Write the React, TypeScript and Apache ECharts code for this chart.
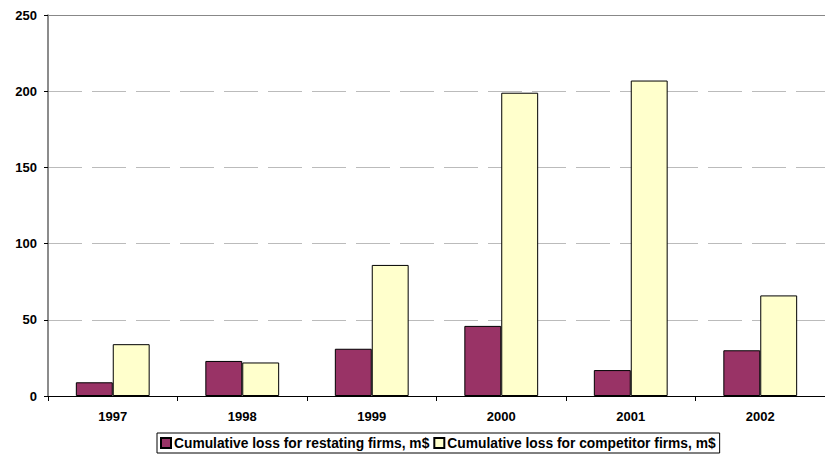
import React, { useEffect, useRef } from "react";
import * as echarts from "echarts";

const years = ["1997", "1998", "1999", "2000", "2001", "2002"];
const restatingLoss = [9, 23, 31, 46, 17, 30];
const competitorLoss = [34, 22, 86, 199, 207, 66];
const seriesNames = [
  "Cumulative loss for restating firms, m$",
  "Cumulative loss for competitor firms, m$",
];

const FONT = "Liberation Sans, Arial, sans-serif";

export default function App() {
  const ref = useRef<HTMLDivElement>(null);

  useEffect(() => {
    if (!ref.current) return;
    const chart = echarts.init(ref.current, null, { renderer: "svg" });
    chart.setOption({
      animation: false,
      backgroundColor: "#fff",
      textStyle: { fontFamily: FONT },
      grid: { left: 48, right: -9, top: 15, bottom: 62 },
      legend: {
        top: 433,
        left: 157,
        itemWidth: 10,
        itemHeight: 10,
        itemGap: 4,
        padding: [3, 4, 3, 3],
        borderColor: "#000",
        borderWidth: 1,
        icon: "rect",
        textStyle: { fontFamily: FONT, fontWeight: "bold", fontSize: 13.8, color: "#000", padding: [0, 0, 0, -2] },
        data: seriesNames,
      },
      xAxis: [
        {
          type: "category",
          data: years,
          axisLine: { lineStyle: { color: "#000", width: 1 } },
          axisTick: { show: true, length: 5, interval: 0, lineStyle: { color: "#000" } },
          axisLabel: { fontFamily: FONT, fontWeight: "bold", fontSize: 13, color: "#000", margin: 14 },
        },
        {
          type: "category",
          data: years,
          position: "top",
          axisLine: { show: true, lineStyle: { color: "#888", width: 1 } },
          axisTick: { show: false },
          axisLabel: { show: false },
        },
      ],
      yAxis: {
        type: "value",
        min: 0,
        max: 250,
        interval: 50,
        axisLine: { show: true, lineStyle: { color: "#666", width: 1.5 } },
        axisTick: { show: true, length: 4, lineStyle: { color: "#000" } },
        axisLabel: { fontFamily: FONT, fontWeight: "bold", fontSize: 13, color: "#000", margin: 11 },
        splitLine: {
          show: true,
          lineStyle: { color: "#bbb", type: [34, 10], width: 1 },
        },
      },
      series: [
        {
          name: seriesNames[0],
          type: "bar",
          data: restatingLoss,
          barGap: "0%",
          barCategoryGap: "43%",
          itemStyle: { color: "#993366", borderColor: "#000", borderWidth: 1 },
        },
        {
          name: seriesNames[1],
          type: "bar",
          data: competitorLoss,
          barGap: "0%",
          barCategoryGap: "43%",
          itemStyle: { color: "#FFFFCC", borderColor: "#000", borderWidth: 1 },
        },
      ],
    });
    return () => chart.dispose();
  }, []);

  return <div ref={ref} style={{ width: 825, height: 458, position: "absolute", left: 0, top: 0 }} />;
}
